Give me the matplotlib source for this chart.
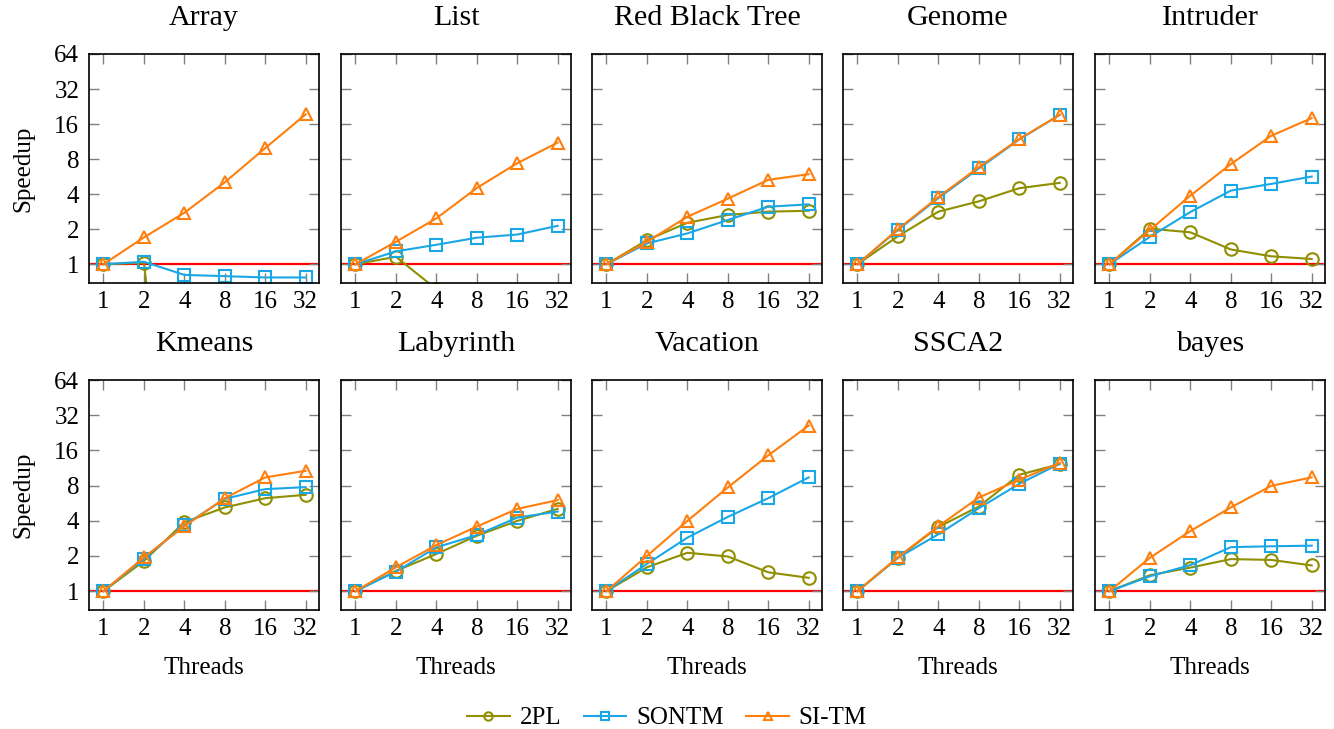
import matplotlib
matplotlib.use("Agg")
from matplotlib import pyplot as plt
from matplotlib.lines import Line2D

plt.rcParams["font.family"] = ["Liberation Serif", "DejaVu Serif"]
plt.rcParams["font.size"] = 18

threads = [1, 2, 4, 8, 16, 32]

benchmarks = ["Array", "List", "Red Black Tree", "Genome", "Intruder",
              "Kmeans", "Labyrinth", "Vacation", "SSCA2", "bayes"]

# speedup per benchmark
tpl = {
    "Array":          [1, 1.03, 0.001, 0.001, 0.001, 0.001],
    "List":           [1, 1.16, 0.61, 0.4, 0.3, 0.25],
    "Red Black Tree": [1, 1.61, 2.27, 2.65, 2.83, 2.88],
    "Genome":         [1, 1.74, 2.83, 3.47, 4.50, 5.0],
    "Intruder":       [1, 2.02, 1.88, 1.34, 1.17, 1.11],
    "Kmeans":         [1, 1.81, 3.89, 5.2, 6.24, 6.67],
    "Labyrinth":      [1, 1.49, 2.08, 2.98, 3.99, 5.06],
    "Vacation":       [1, 1.60, 2.13, 1.98, 1.45, 1.30],
    "SSCA2":          [1, 1.93, 3.54, 5.29, 9.9, 12.2],
    "bayes":          [1, 1.37, 1.59, 1.88, 1.85, 1.66],
}
sontm = {
    "Array":          [1, 1.05, 0.81, 0.79, 0.77, 0.77],
    "List":           [1, 1.29, 1.47, 1.69, 1.80, 2.14],
    "Red Black Tree": [1, 1.51, 1.84, 2.40, 3.12, 3.27],
    "Genome":         [1, 1.97, 3.7, 6.65, 11.8, 19.2],
    "Intruder":       [1, 1.72, 2.81, 4.29, 4.90, 5.67],
    "Kmeans":         [1, 1.90, 3.66, 6.16, 7.46, 7.76],
    "Labyrinth":      [1, 1.47, 2.37, 3.02, 4.26, 4.80],
    "Vacation":       [1, 1.71, 2.87, 4.32, 6.24, 9.4],
    "SSCA2":          [1, 1.93, 3.07, 5.12, 8.28, 12.3],
    "bayes":          [1, 1.34, 1.67, 2.38, 2.42, 2.45],
}
sitm = {
    "Array":          [1, 1.70, 2.77, 5.06, 9.95, 19.4],
    "List":           [1, 1.56, 2.48, 4.52, 7.38, 11.1],
    "Red Black Tree": [1, 1.56, 2.56, 3.66, 5.31, 5.94],
    "Genome":         [1, 2.0, 3.78, 6.82, 11.9, 19.2],
    "Intruder":       [1, 1.97, 3.89, 7.24, 12.7, 18.0],
    "Kmeans":         [1, 1.95, 3.59, 6.24, 9.4, 10.7],
    "Labyrinth":      [1, 1.60, 2.48, 3.57, 5.06, 6.0],
    "Vacation":       [1, 2.0, 3.99, 7.71, 14.5, 26.1],
    "SSCA2":          [1, 1.95, 3.59, 6.32, 8.97, 12.5],
    "bayes":          [1, 1.93, 3.27, 5.2, 7.96, 9.4],
}

series = [
    ("2PL", tpl, "#8f8f00", "o"),
    ("SONTM", sontm, "#1aa7e6", "s"),
    ("SI-TM", sitm, "#ff7f0e", "^"),
]

W, H = 1334, 729
fig = plt.figure(figsize=(W / 100, H / 100), dpi=100)

lefts = [89, 341, 592, 843, 1095]
rows = [(54, 283), (380, 610)]
aw = 230

for i, name in enumerate(benchmarks):
    r, c = divmod(i, 5)
    top, bot = rows[r]
    ax = fig.add_axes([lefts[c] / W, 1 - bot / H, aw / W, (bot - top) / H])
    ax.set_xscale("log", base=2)
    ax.set_yscale("log", base=2)

    ax.axhline(1, color="red", linewidth=1.6, zorder=1)
    for label, data, color, marker in series:
        ax.plot(threads, data[name], color=color, marker=marker,
                markerfacecolor="none", markeredgewidth=1.5,
                markersize=9, linewidth=1.5, label=label, zorder=2)

    ax.set_xlim(0.78, 40.2)
    ax.set_ylim(0.69, 64)
    ax.set_xticks(threads)
    ax.set_xticklabels([str(t) for t in threads])
    ax.set_yticks([1, 2, 4, 8, 16, 32, 64])
    ax.minorticks_off()
    ax.tick_params(which="both", direction="in", length=7, width=1,
                   color="#808080", top=True, right=True)
    ax.tick_params(axis="x", pad=6)
    ax.tick_params(axis="y", pad=7)
    if c == 0:
        ax.set_yticklabels(["1", "2", "4", "8", "16", "32", "64"])
        ax.set_ylabel("Speedup", labelpad=14)
    else:
        ax.set_yticklabels([])
    if r == 1:
        ax.set_xlabel("Threads", labelpad=12)
    for sp in ax.spines.values():
        sp.set_linewidth(1.2)
    ax.set_title(name, pad=21)

handles = [Line2D([0], [0], color=color, marker=marker, markerfacecolor="none",
                  markeredgewidth=1.5, markersize=6, linewidth=1.5)
           for _, _, color, marker in series]
fig.legend(handles, [s[0] for s in series], loc="center",
           bbox_to_anchor=(0.5, 1 - 718 / H), ncol=3, frameon=False,
           handlelength=1.7, handletextpad=0.4, columnspacing=0.9)

fig.savefig("out.png", dpi=100)
